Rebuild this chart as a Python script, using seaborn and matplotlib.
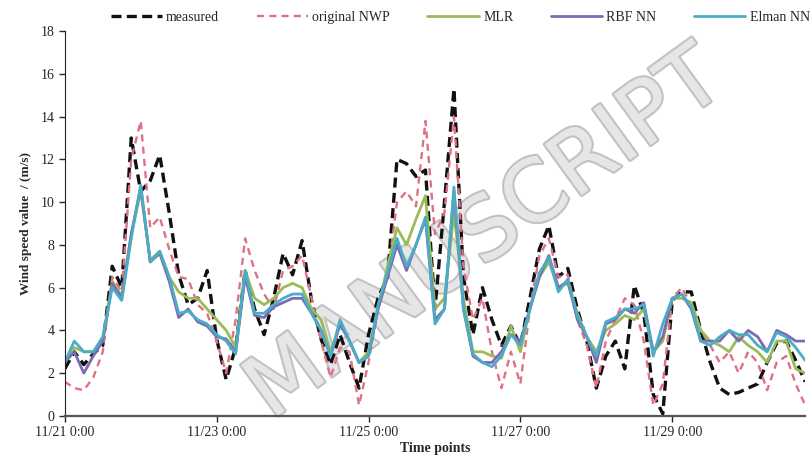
import numpy as np
import pandas as pd
import matplotlib
matplotlib.use("Agg")
import matplotlib.pyplot as plt
import matplotlib.patheffects as pe
import seaborn as sns

# time axis: hours since 11/21 0:00, 3-hour steps
hours = list(range(0, 235, 3))

measured = [2.2, 3.0, 2.4, 2.9, 3.3, 7.0, 6.0, 13.0, 10.5, 11.0,
            12.2, 9.5, 6.6, 5.2, 5.5, 6.8, 3.6, 1.7, 3.2, 6.8,
            5.0, 3.8, 5.5, 7.6, 6.6, 8.2, 5.4, 3.6, 2.4, 3.8,
            2.5, 1.3, 3.8, 5.5, 6.5, 12.0, 11.8, 11.2, 11.5, 5.0,
            10.0, 15.3, 6.5, 3.8, 6.0, 4.5, 3.3, 4.2, 3.3, 5.5,
            7.8, 8.9, 6.5, 6.9, 5.0, 3.5, 1.3, 2.8, 3.5, 2.2,
            6.1, 4.8, 1.0, 0.1, 5.4, 5.8, 5.8, 4.0, 2.5, 1.3,
            1.0, 1.1, 1.3, 1.5, 2.5, 3.4, 3.5, 2.6, 1.6]

original_nwp = [1.6, 1.3, 1.2, 1.8, 3.0, 6.5, 5.8, 12.0, 13.8, 8.8,
                9.3, 7.8, 6.5, 6.4, 5.2, 4.8, 3.5, 2.0, 4.5, 8.3,
                6.8, 5.7, 5.0, 6.8, 7.0, 7.5, 5.5, 3.5, 1.8, 3.2,
                3.0, 0.5, 2.5, 5.0, 6.5, 10.0, 10.5, 9.8, 13.8, 8.5,
                9.5, 14.0, 7.0, 4.5, 5.5, 3.0, 1.3, 3.0, 1.5, 5.0,
                7.5, 8.3, 6.5, 6.6, 4.5, 3.3, 1.3, 3.5, 4.5, 5.5,
                5.2, 3.5, 0.5, 1.5, 5.5, 6.0, 5.2, 4.0, 3.3, 2.5,
                3.0, 2.0, 3.0, 2.5, 1.2, 2.5, 2.8, 1.5, 0.5]

mlr = [2.5, 3.2, 3.0, 3.0, 3.5, 6.3, 5.6, 8.5, 10.5, 7.3,
       7.7, 6.5, 5.8, 5.5, 5.5, 5.0, 4.5, 4.0, 3.2, 6.8,
       5.5, 5.2, 5.5, 6.0, 6.2, 6.0, 5.0, 4.5, 3.0, 4.3,
       3.5, 2.5, 3.0, 5.0, 7.0, 8.8, 8.0, 9.2, 10.3, 5.0,
       5.5, 9.5, 5.5, 3.0, 3.0, 2.8, 2.7, 4.2, 3.0, 5.0,
       6.5, 7.2, 6.0, 6.2, 4.8, 3.7, 3.0, 4.0, 4.3, 4.7,
       4.5, 5.0, 3.0, 3.5, 5.5, 5.5, 5.3, 4.0, 3.5, 3.3,
       3.0, 3.7, 3.3, 3.0, 2.5, 3.5, 3.5, 2.2, 2.0]

rbf_nn = [2.5, 3.0, 2.0, 2.8, 3.5, 6.2, 5.5, 8.5, 10.7, 7.2,
          7.6, 6.3, 4.6, 5.0, 4.4, 4.2, 3.7, 3.6, 3.0, 6.5,
          4.7, 4.6, 5.1, 5.3, 5.5, 5.5, 4.8, 4.0, 2.8, 4.3,
          3.5, 2.5, 2.8, 5.0, 6.5, 8.0, 6.8, 8.0, 9.2, 4.5,
          5.0, 10.5, 5.0, 2.8, 2.5, 2.5, 3.0, 3.8, 3.5, 5.0,
          6.5, 7.5, 6.0, 6.3, 4.5, 3.7, 2.5, 4.3, 4.5, 5.0,
          4.8, 5.3, 3.0, 3.7, 5.5, 5.7, 5.0, 3.5, 3.5, 3.5,
          4.0, 3.5, 4.0, 3.7, 3.0, 4.0, 3.8, 3.5, 3.5]

elman_nn = [2.5, 3.5, 3.0, 3.0, 3.7, 6.0, 5.4, 8.3, 10.8, 7.2,
            7.7, 6.5, 4.8, 4.9, 4.5, 4.3, 3.8, 3.5, 2.9, 6.8,
            4.8, 4.8, 5.2, 5.5, 5.7, 5.7, 4.8, 4.0, 2.8, 4.5,
            3.5, 2.5, 2.8, 5.2, 6.7, 8.3, 7.0, 8.0, 9.3, 4.3,
            5.0, 10.7, 5.0, 2.9, 2.5, 2.3, 2.8, 3.8, 3.3, 5.0,
            6.7, 7.4, 5.8, 6.4, 4.7, 3.7, 2.8, 4.4, 4.6, 5.0,
            5.0, 5.2, 2.8, 4.3, 5.5, 5.7, 5.1, 3.5, 3.3, 3.7,
            4.0, 3.8, 3.8, 3.3, 3.0, 3.9, 3.7, 3.2, 2.6]

tick_hours = [0, 48, 96, 144, 192]
tick_labels = ["11/21 0:00", "11/23 0:00", "11/25 0:00", "11/27 0:00", "11/29 0:00"]

sns.set_style("ticks")
plt.rcParams["font.family"] = ["Liberation Serif", "DejaVu Serif"]

fig = plt.figure(figsize=(8.1, 4.71), dpi=100)
ax = fig.add_axes([0.080, 0.117, 0.914, 0.817])
ax.patch.set_alpha(0)

# watermark (kept inside the figure, behind the axes)
fig.text(0.60, 0.50, "MANUSCRIPT", fontsize=62, family="DejaVu Sans",
         color="#e6e6e6", rotation=36, ha="center", va="center", zorder=-1,
         path_effects=[pe.withStroke(linewidth=3, foreground="#c2c2c2")])

series = [
    ("measured", measured, "#111111", (3, 1.6), 2.4),
    ("original NWP", original_nwp, "#df7085", (3, 2.2), 1.7),
    ("MLR", mlr, "#9bbb59", None, 2.0),
    ("RBF NN", rbf_nn, "#7d6bb0", None, 2.0),
    ("Elman NN", elman_nn, "#4bacc6", None, 2.0),
]

for name, vals, col, dash, lw in series:
    df = pd.DataFrame({"t": hours, "v": vals})
    line_ax = sns.lineplot(data=df, x="t", y="v", ax=ax, color=col, lw=lw, label=name)
    ln = line_ax.lines[-1]
    if dash is not None:
        ln.set_dashes(dash)

ax.set_xlim(0, 234)
ax.set_ylim(0, 18)
ax.set_yticks(range(0, 19, 2))
ax.set_xticks(tick_hours)
ax.set_xticklabels(tick_labels)
ax.tick_params(axis="both", labelsize=10, length=4, direction="out", width=1)
ax.set_xlabel("Time points", fontsize=10, fontweight="bold", labelpad=2)
ax.set_ylabel("Wind speed value  / (m/s)", fontsize=9.5, fontweight="bold", labelpad=6)
sns.despine(ax=ax)
ax.spines["bottom"].set_color("#555555")
ax.spines["bottom"].set_linewidth(1.6)
ax.spines["left"].set_color("#222222")

handles, labels = ax.get_legend_handles_labels()
ax.legend_.remove()
fig.legend(handles, labels, loc="center", bbox_to_anchor=(0.568, 0.963), ncol=5,
           frameon=False, fontsize=10, handlelength=3.7, columnspacing=2.7,
           handletextpad=0.3)

fig.savefig("out.png", dpi=100)
